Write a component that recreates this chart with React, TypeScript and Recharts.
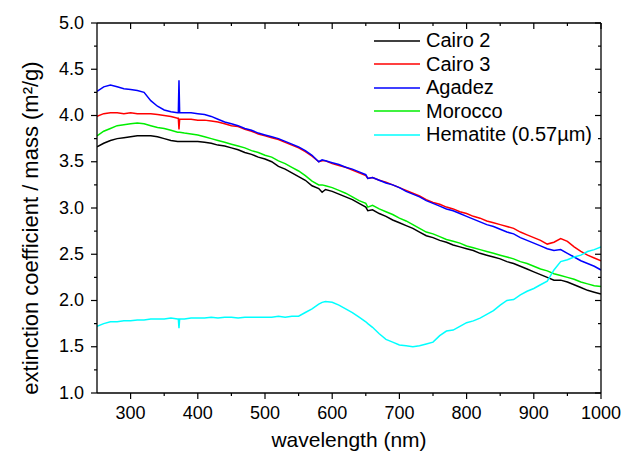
import React from "react";
import { LineChart, Line, XAxis, YAxis, Legend } from "recharts";

// wavelength grid (nm) + extinction per mass (m²/g)
const wavelengths = [
  250, 260, 270, 280, 290, 300, 310, 320, 330, 340, 350, 360, 370, 371, 372, 373, 380, 390,
  400, 410, 420, 430, 440, 450, 460, 470, 480, 490, 500, 510, 520, 530, 540, 550,
  560, 570, 580, 585, 590, 600, 610, 620, 630, 640, 650, 653, 660, 670, 680, 690,
  700, 710, 720, 730, 740, 750, 760, 770, 780, 790, 800, 810, 820, 830, 840, 850,
  860, 870, 880, 890, 900, 910, 920, 930, 940, 950, 960, 970, 980, 990, 1000,
];

const cairo2 = [
  3.66, 3.7, 3.73, 3.75, 3.76, 3.77, 3.78, 3.78, 3.78, 3.77, 3.75, 3.73, 3.72, 3.72, 3.72, 3.72, 3.72, 3.72,
  3.72, 3.71, 3.7, 3.68, 3.67, 3.65, 3.63, 3.6, 3.58, 3.55, 3.53, 3.5, 3.45, 3.42, 3.38, 3.34,
  3.3, 3.24, 3.21, 3.17, 3.2, 3.18, 3.15, 3.12, 3.09, 3.05, 3.01, 2.97, 2.98, 2.94, 2.91, 2.87,
  2.84, 2.81, 2.78, 2.74, 2.7, 2.68, 2.65, 2.63, 2.6, 2.58, 2.56, 2.54, 2.51, 2.49, 2.47, 2.45,
  2.42, 2.4, 2.37, 2.34, 2.31, 2.28, 2.25, 2.22, 2.22, 2.2, 2.17, 2.14, 2.11, 2.09, 2.07,
];

const cairo3 = [
  3.99, 4.02, 4.03, 4.03, 4.02, 4.03, 4.02, 4.02, 4.02, 4.01, 4.0, 3.99, 3.97, 3.97, 3.85, 3.96, 3.96, 3.96,
  3.95, 3.95, 3.94, 3.93, 3.91, 3.89, 3.88, 3.85, 3.83, 3.8, 3.78, 3.76, 3.74, 3.71, 3.68, 3.65,
  3.61, 3.56, 3.5, 3.51, 3.51, 3.48, 3.46, 3.44, 3.41, 3.38, 3.35, 3.32, 3.33, 3.3, 3.28, 3.25,
  3.22, 3.19, 3.16, 3.13, 3.09, 3.06, 3.04, 3.01, 2.99, 2.96, 2.94, 2.91, 2.89, 2.86, 2.84, 2.82,
  2.8, 2.78, 2.74, 2.71, 2.68, 2.65, 2.61, 2.63, 2.67, 2.64, 2.58, 2.53, 2.49, 2.46, 2.43,
];

const agadez = [
  4.26, 4.31, 4.33, 4.31, 4.29, 4.28, 4.27, 4.25, 4.16, 4.1, 4.06, 4.04, 4.03, 4.03, 4.38, 4.03, 4.03, 4.03,
  4.02, 4.01, 3.99, 3.96, 3.93, 3.91, 3.89, 3.86, 3.84, 3.81, 3.79, 3.77, 3.75, 3.72, 3.69, 3.66,
  3.62, 3.57, 3.5, 3.52, 3.51, 3.49, 3.47, 3.44, 3.42, 3.39, 3.36, 3.32, 3.33, 3.3, 3.27, 3.25,
  3.22, 3.18, 3.15, 3.12, 3.08, 3.05, 3.02, 2.99, 2.97, 2.94, 2.91, 2.88, 2.85, 2.82, 2.8, 2.77,
  2.74, 2.72, 2.68, 2.65, 2.62, 2.59, 2.56, 2.54, 2.55, 2.51, 2.47, 2.43, 2.4, 2.37, 2.33,
];

const morocco = [
  3.78, 3.83, 3.86, 3.89, 3.9, 3.91, 3.92, 3.91, 3.89, 3.87, 3.86, 3.84, 3.82, 3.82, 3.82, 3.82, 3.81, 3.8,
  3.79, 3.77, 3.75, 3.73, 3.71, 3.69, 3.67, 3.65, 3.62, 3.6, 3.57, 3.55, 3.51, 3.48, 3.44, 3.4,
  3.35, 3.29, 3.25, 3.25, 3.24, 3.22, 3.19, 3.16, 3.12, 3.08, 3.05, 3.01, 3.03, 2.99, 2.96, 2.93,
  2.89, 2.86, 2.82, 2.78, 2.74, 2.72, 2.69, 2.66, 2.64, 2.62, 2.59, 2.57, 2.55, 2.53, 2.51, 2.49,
  2.47, 2.45, 2.42, 2.4, 2.37, 2.34, 2.32, 2.29, 2.27, 2.25, 2.23, 2.2, 2.18, 2.16, 2.15,
];

const hematite = [
  1.72, 1.75, 1.77, 1.77, 1.78, 1.78, 1.79, 1.79, 1.8, 1.8, 1.8, 1.81, 1.8, 1.8, 1.7, 1.8, 1.8, 1.81,
  1.81, 1.81, 1.82, 1.81, 1.82, 1.82, 1.81, 1.82, 1.82, 1.82, 1.82, 1.82, 1.83, 1.82, 1.83, 1.83,
  1.87, 1.91, 1.96, 1.98, 1.99, 1.98, 1.95, 1.91, 1.87, 1.82, 1.77, 1.75, 1.71, 1.64, 1.58, 1.55,
  1.52, 1.51, 1.5, 1.51, 1.53, 1.55, 1.62, 1.67, 1.68, 1.72, 1.76, 1.78, 1.81, 1.85, 1.89, 1.95,
  2.0, 2.01, 2.06, 2.1, 2.13, 2.17, 2.21, 2.33, 2.42, 2.44, 2.47, 2.49, 2.53, 2.55, 2.58,
];

// majors carry labels, minors are short unlabelled ticks
const xMajor = [300, 400, 500, 600, 700, 800, 900, 1000];
const xTicks = [300, 350, 400, 450, 500, 550, 600, 650, 700, 750, 800, 850, 900, 950, 1000];
const yMajor = [1.0, 1.5, 2.0, 2.5, 3.0, 3.5, 4.0, 4.5, 5.0];
const yTicks = [1.0, 1.25, 1.5, 1.75, 2.0, 2.25, 2.5, 2.75, 3.0, 3.25, 3.5, 3.75, 4.0, 4.25, 4.5, 4.75, 5.0];

const series = [
  { key: "cairo2", name: "Cairo 2", color: "#000000" },
  { key: "cairo3", name: "Cairo 3", color: "#ff0000" },
  { key: "agadez", name: "Agadez", color: "#0000ff" },
  { key: "morocco", name: "Morocco", color: "#00ee00" },
  { key: "hematite", name: "Hematite (0.57µm)", color: "#00ffff" },
];

const data = wavelengths.map((w, i) => ({
  w,
  cairo2: cairo2[i],
  cairo3: cairo3[i],
  agadez: agadez[i],
  morocco: morocco[i],
  hematite: hematite[i],
}));

const FONT = "'Liberation Sans', Arial, sans-serif";
const TICK_FONT = 18;
const MAJOR = 6;
const MINOR = 3;
const axisStroke = { stroke: "#000", strokeWidth: 1.3 };

const isMajor = (list: number[], v: number) => list.some((m) => Math.abs(m - v) < 1e-6);

// tickSize/tickMargin are 0 on every axis, so (x, y) sits right on the axis line
const BottomTick = (p: any) => {
  const v = p.payload.value;
  const major = isMajor(xMajor, v);
  return (
    <g>
      <line x1={p.x} x2={p.x} y1={p.y} y2={p.y + (major ? MAJOR : MINOR)} stroke="#000" strokeWidth={1.2} />
      {major && (
        <text x={p.x} y={p.y + 26} textAnchor="middle" fontSize={TICK_FONT} fontFamily={FONT} fill="#000">
          {v}
        </text>
      )}
    </g>
  );
};

const TopTick = (p: any) => {
  const major = isMajor(xMajor, p.payload.value);
  return <line x1={p.x} x2={p.x} y1={p.y} y2={p.y + (major ? MAJOR : MINOR)} stroke="#000" strokeWidth={1.2} />;
};

const LeftTick = (p: any) => {
  const v = p.payload.value;
  const major = isMajor(yMajor, v);
  return (
    <g>
      <line x1={p.x - (major ? MAJOR : MINOR)} x2={p.x} y1={p.y} y2={p.y} stroke="#000" strokeWidth={1.2} />
      {major && (
        <text x={p.x - 13} y={p.y + 5.5} textAnchor="end" fontSize={TICK_FONT} fontFamily={FONT} fill="#000">
          {v.toFixed(1)}
        </text>
      )}
    </g>
  );
};

const RightTick = (p: any) => {
  const major = isMajor(yMajor, p.payload.value);
  return <line x1={p.x - (major ? MAJOR : MINOR)} x2={p.x} y1={p.y} y2={p.y} stroke="#000" strokeWidth={1.2} />;
};

// legend — plain list, top-right inside the frame
const LegendBox = () => (
  <div style={{ fontFamily: FONT, fontSize: 20, color: "#000" }}>
    {series.map((s) => (
      <div key={s.key} style={{ display: "flex", alignItems: "center", height: 23.5 }}>
        <svg width={46} height={4} style={{ marginRight: 6 }}>
          <line x1={0} y1={2} x2={46} y2={2} stroke={s.color} strokeWidth={1.6} />
        </svg>
        <span>{s.name}</span>
      </div>
    ))}
  </div>
);

const XTitle = () => (
  <text x={349} y={447} textAnchor="middle" fontSize={21} fontFamily={FONT} fill="#000">
    wavelength (nm)
  </text>
);

const YTitle = () => (
  <text
    transform="translate(38 228) rotate(-90)"
    textAnchor="middle"
    fontSize={22}
    fontFamily={FONT}
    fill="#000"
  >
    extinction coefficient / mass (m²/g)
  </text>
);

export default function App() {
  return (
    <div style={{ position: "absolute", left: 0, top: 0, background: "#fff" }}>
      <LineChart
        width={622}
        height={457}
        data={data}
        margin={{ top: 22, right: 20, bottom: 0, left: 0 }}
      >
        <XAxis
          xAxisId="x"
          dataKey="w"
          type="number"
          domain={[250, 1000]}
          allowDataOverflow
          ticks={xTicks}
          interval={0}
          height={64}
          tickSize={0}
          tickMargin={0}
          tickLine={false}
          tick={<BottomTick />}
          axisLine={axisStroke}
          label={<XTitle />}
        />
        <XAxis
          xAxisId="xt"
          orientation="top"
          dataKey="w"
          type="number"
          domain={[250, 1000]}
          allowDataOverflow
          ticks={xTicks}
          interval={0}
          height={1}
          tickSize={0}
          tickMargin={0}
          tickLine={false}
          tick={<TopTick />}
          axisLine={axisStroke}
        />
        <YAxis
          yAxisId="y"
          type="number"
          domain={[1, 5]}
          allowDataOverflow
          ticks={yTicks}
          interval={0}
          width={97}
          tickSize={0}
          tickMargin={0}
          tickLine={false}
          tick={<LeftTick />}
          axisLine={axisStroke}
          label={<YTitle />}
        />
        <YAxis
          yAxisId="yr"
          orientation="right"
          type="number"
          domain={[1, 5]}
          allowDataOverflow
          ticks={yTicks}
          interval={0}
          width={1}
          tickSize={0}
          tickMargin={0}
          tickLine={false}
          tick={<RightTick />}
          axisLine={axisStroke}
        />

        {/* invisible series so the top / right frame axes get a domain */}
        <Line
          xAxisId="xt"
          yAxisId="yr"
          dataKey="cairo2"
          stroke="none"
          dot={false}
          activeDot={false}
          legendType="none"
          isAnimationActive={false}
        />

        {series.map((s) => (
          <Line
            key={s.key}
            xAxisId="x"
            yAxisId="y"
            dataKey={s.key}
            name={s.name}
            type="linear"
            stroke={s.color}
            strokeWidth={1.5}
            dot={false}
            activeDot={false}
            isAnimationActive={false}
          />
        ))}

        <Legend
          layout="vertical"
          align="center"
          verticalAlign="middle"
          content={<LegendBox />}
          wrapperStyle={{ left: 374, top: 29, width: 240, height: "auto" }}
        />
      </LineChart>
    </div>
  );
}
